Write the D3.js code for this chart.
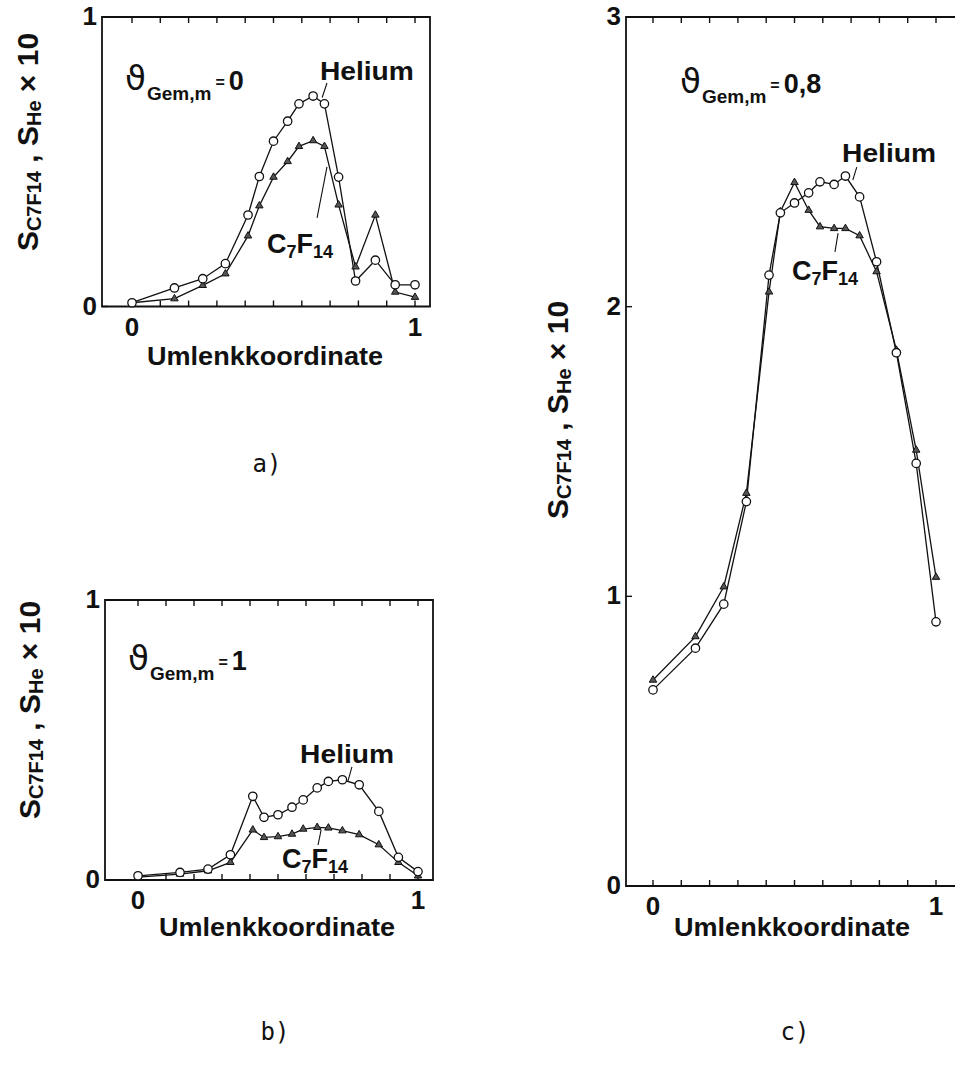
<!DOCTYPE html>
<html>
<head>
<meta charset="utf-8">
<script src="https://cdn.jsdelivr.net/npm/d3@7"></script>
<style>
  body { margin: 0; background: #fff; }
  svg { display: block; }
  text { font-family: "Liberation Sans", Arial, sans-serif; font-weight: bold; fill: #111; }
  .series { fill: none; stroke: #111; stroke-width: 1.3; }
  .frame { fill: none; stroke: #111; stroke-width: 1.8; }
  .tick { stroke: #111; stroke-width: 1.4; }
  .lead { stroke: #111; stroke-width: 1.1; }
  .panel-tag { font-family: "DejaVu Sans Mono", monospace; font-weight: normal; font-size: 24px; }
</style>
</head>
<body>
<script>
// Umlenkkoordinate (same measuring points in all three panels)
const umlenk = [0, 0.15, 0.25, 0.33, 0.41, 0.45, 0.5, 0.55, 0.59, 0.64, 0.68, 0.73, 0.79, 0.86, 0.93, 1.0];

// a) theta = 0
const heliumA = [0.013, 0.064, 0.096, 0.148, 0.316, 0.449, 0.571, 0.640, 0.700, 0.727, 0.700, 0.447, 0.088, 0.160, 0.075, 0.075];
const c7f14A  = [0.013, 0.027, 0.073, 0.113, 0.244, 0.348, 0.447, 0.501, 0.553, 0.573, 0.553, 0.351, 0.137, 0.316, 0.050, 0.032];

// b) theta = 1
const heliumB = [0.015, 0.027, 0.039, 0.090, 0.299, 0.224, 0.233, 0.260, 0.286, 0.329, 0.352, 0.358, 0.340, 0.245, 0.081, 0.030];
const c7f14B  = [0.010, 0.021, 0.033, 0.063, 0.179, 0.152, 0.155, 0.164, 0.182, 0.188, 0.186, 0.176, 0.162, 0.126, 0.063, 0.015];

// c) theta = 0,8
const heliumC = [0.677, 0.821, 0.973, 1.327, 2.109, 2.324, 2.358, 2.393, 2.431, 2.422, 2.451, 2.379, 2.155, 1.841, 1.459, 0.912];
const c7f14C  = [0.711, 0.861, 1.033, 1.356, 2.051, 2.328, 2.429, 2.333, 2.276, 2.270, 2.270, 2.245, 2.121, 1.850, 1.505, 1.066];

const xTicks = d3.range(0, 1.0001, 0.1);
const xTickLabels = [0, 1];

const svg = d3.select("body").append("svg")
    .attr("width", 955)
    .attr("height", 1072);

// layout of each panel (pixel placement only)
const panels = [
  { tag: "a)", tagX: 267, tagY: 472, theta: "0",
    helium: heliumA, c7: c7f14A, yMax: 1, yTicks: [0, 1],
    xr: [132, 415], yr: [306.5, 17], left: 102, right: 430,
    yTitle: [38, 142], xTitle: [265, 365],
    thetaPos: [-0.025, 0.748], heLbl: [0.664, 0.782], heLead: [[0.689, 0.772], [0.672, 0.722]],
    c7Lbl: [0.477, 0.184], c7Lead: [[0.689, 0.482], [0.654, 0.306]] },
  { tag: "b)", tagX: 275, tagY: 1040, theta: "1",
    helium: heliumB, c7: c7f14B, yMax: 1, yTicks: [0, 1],
    xr: [138, 418], yr: [880, 600], left: 105, right: 433,
    yTitle: [40, 710], xTitle: [277, 936],
    thetaPos: [-0.036, 0.75], heLbl: [0.579, 0.418], heLead: [[0.764, 0.404], [0.750, 0.354]],
    c7Lbl: [0.514, 0.043], c7Lead: [[0.654, 0.179], [0.643, 0.125]] },
  { tag: "c)", tagX: 795, tagY: 1040, theta: "0,8",
    helium: heliumC, c7: c7f14C, yMax: 3, yTicks: [0, 1, 2, 3],
    xr: [653, 936], yr: [886, 17], left: 626, right: 960,
    yTitle: [568, 410], xTitle: [792, 936],
    thetaPos: [0.095, 2.738], heLbl: [0.668, 2.50], heLead: [[0.720, 2.482], [0.706, 2.437]],
    c7Lbl: [0.491, 2.092], c7Lead: [[0.654, 2.254], [0.643, 2.189]] }
];

function drawPanel(p) {
  const x = d3.scaleLinear().domain([0, 1]).range(p.xr);
  const y = d3.scaleLinear().domain([0, p.yMax]).range(p.yr);
  const g = svg.append("g");
  const top = y(p.yMax), bottom = y(0);

  // frame
  g.append("path").attr("class", "frame")
    .attr("d", `M${p.left},${top}V${bottom}H${p.right}V${top}Z`);

  // inward ticks top / bottom
  xTicks.forEach(t => {
    g.append("line").attr("class", "tick")
      .attr("x1", x(t)).attr("x2", x(t)).attr("y1", bottom).attr("y2", bottom - 6);
    g.append("line").attr("class", "tick")
      .attr("x1", x(t)).attr("x2", x(t)).attr("y1", top).attr("y2", top + 6);
  });
  p.yTicks.forEach(t => {
    g.append("line").attr("class", "tick")
      .attr("x1", p.left).attr("x2", p.left + 6).attr("y1", y(t)).attr("y2", y(t));
    g.append("text")
      .attr("x", p.left - 5).attr("y", y(t) + 8)
      .attr("text-anchor", "end").attr("font-size", 26)
      .text(t);
  });
  xTickLabels.forEach(t => {
    g.append("text")
      .attr("x", x(t)).attr("y", bottom + 29)
      .attr("text-anchor", "middle").attr("font-size", 26)
      .text(t);
  });

  // axis titles
  g.append("text")
    .attr("x", p.xTitle[0]).attr("y", p.xTitle[1])
    .attr("text-anchor", "middle").attr("font-size", 25)
    .attr("textLength", 236).attr("lengthAdjust", "spacingAndGlyphs")
    .text("Umlenkkoordinate");

  const yt = g.append("text")
    .attr("transform", `translate(${p.yTitle[0]},${p.yTitle[1]}) rotate(-90)`)
    .attr("text-anchor", "middle").attr("font-size", 30);
  yt.append("tspan").text("S");
  yt.append("tspan").attr("font-size", 20).attr("dy", 3).text("C7F14");
  yt.append("tspan").attr("dy", -3).text(" , S");
  yt.append("tspan").attr("font-size", 20).attr("dy", 3).text("He");
  yt.append("tspan").attr("dy", -3).text(" × 10");

  // series
  const heData = umlenk.map((u, i) => [u, p.helium[i]]);
  const c7Data = umlenk.map((u, i) => [u, p.c7[i]]);
  const line = d3.line().x(d => x(d[0])).y(d => y(d[1]));

  g.append("path").datum(c7Data).attr("class", "series").attr("d", line);
  g.append("path").datum(heData).attr("class", "series").attr("d", line);

  const tri = d3.symbol().type(d3.symbolTriangle).size(24);
  g.selectAll(null).data(c7Data).join("path")
    .attr("d", tri)
    .attr("transform", d => `translate(${x(d[0])},${y(d[1])})`)
    .attr("fill", "#555").attr("stroke", "#111").attr("stroke-width", 1);

  g.selectAll(null).data(heData).join("circle")
    .attr("cx", d => x(d[0])).attr("cy", d => y(d[1])).attr("r", 4.2)
    .attr("fill", "#fff").attr("stroke", "#111").attr("stroke-width", 1.3);

  // theta label
  const th = g.append("text")
    .attr("x", x(p.thetaPos[0])).attr("y", y(p.thetaPos[1]));
  th.append("tspan").attr("font-family", "DejaVu Sans").attr("font-weight", "normal")
    .attr("font-size", 34).text("ϑ");
  th.append("tspan").attr("font-size", 19).attr("dy", 10).attr("dx", 1).text("Gem,m");
  th.append("tspan").attr("font-size", 16).attr("dy", -12).attr("dx", 4).text("=");
  th.append("tspan").attr("font-size", 27).attr("dy", 2).attr("dx", 4).text(p.theta);

  // series labels with leader lines
  g.append("text")
    .attr("x", x(p.heLbl[0])).attr("y", y(p.heLbl[1]))
    .attr("font-size", 26).attr("textLength", 94).attr("lengthAdjust", "spacingAndGlyphs")
    .text("Helium");
  g.append("line").attr("class", "lead")
    .attr("x1", x(p.heLead[0][0])).attr("y1", y(p.heLead[0][1]))
    .attr("x2", x(p.heLead[1][0])).attr("y2", y(p.heLead[1][1]));

  const c7 = g.append("text")
    .attr("x", x(p.c7Lbl[0])).attr("y", y(p.c7Lbl[1]))
    .attr("font-size", 27);
  c7.append("tspan").text("C");
  c7.append("tspan").attr("font-size", 18).attr("dy", 5).text("7");
  c7.append("tspan").attr("dy", -5).text("F");
  c7.append("tspan").attr("font-size", 18).attr("dy", 5).text("14");
  g.append("line").attr("class", "lead")
    .attr("x1", x(p.c7Lead[0][0])).attr("y1", y(p.c7Lead[0][1]))
    .attr("x2", x(p.c7Lead[1][0])).attr("y2", y(p.c7Lead[1][1]));

  // panel tag
  svg.append("text").attr("class", "panel-tag")
    .attr("x", p.tagX).attr("y", p.tagY)
    .attr("text-anchor", "middle")
    .text(p.tag);
}

panels.forEach(drawPanel);
</script>
</body>
</html>
